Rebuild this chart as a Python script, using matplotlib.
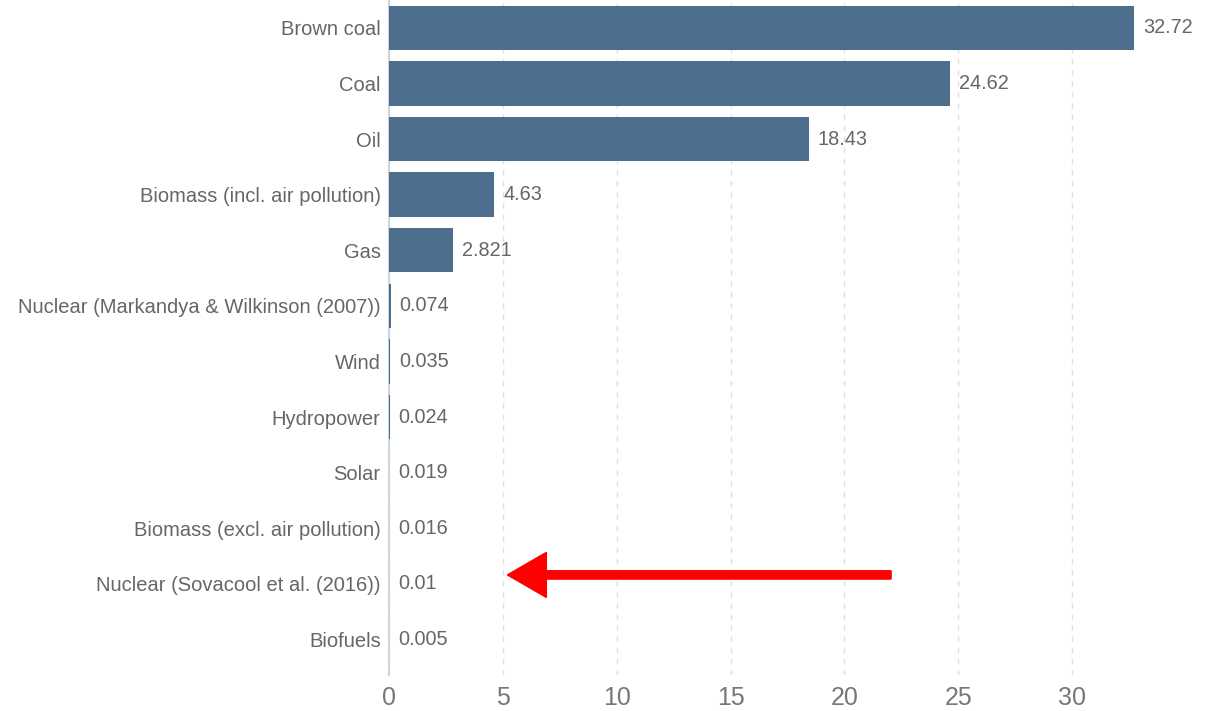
import matplotlib.pyplot as plt
from matplotlib.patches import FancyArrow

plt.rcParams['font.family'] = ['Liberation Sans', 'DejaVu Sans']

sources = ["Brown coal", "Coal", "Oil", "Biomass (incl. air pollution)", "Gas",
           "Nuclear (Markandya & Wilkinson (2007))", "Wind", "Hydropower", "Solar",
           "Biomass (excl. air pollution)", "Nuclear (Sovacool et al. (2016))", "Biofuels"]
rates = [32.72, 24.62, 18.43, 4.63, 2.821, 0.074, 0.035, 0.024, 0.019, 0.016, 0.01, 0.005]
rate_labels = ["32.72", "24.62", "18.43", "4.63", "2.821", "0.074", "0.035", "0.024",
               "0.019", "0.016", "0.01", "0.005"]
xticks = [0, 5, 10, 15, 20, 25, 30]

W, H = 1222, 711
fig = plt.figure(figsize=(W/100, H/100), dpi=100)
ax = fig.add_axes([389/W, 36/H, (W-389)/W, 675/H])

ypos = list(range(len(sources)))
ax.barh(ypos, rates, height=0.8, color='#3e6283', alpha=0.92, zorder=3)
for y, v, lab in zip(ypos, rates, rate_labels):
    ax.annotate(lab, (v, y), xytext=(6.5, 0), textcoords='offset points',
                va='center', ha='left', fontsize=14.3, color='#666666')

ax.set_xlim(0, (W-389)/22.77)
ax.set_ylim(11.64, -0.5)
ax.set_yticks(ypos)
ax.set_yticklabels(sources, fontsize=14.5, color='#666666')
ax.set_xticks(xticks)
ax.set_xticklabels([str(t) for t in xticks], fontsize=18, color='#777777')
ax.tick_params(axis='both', length=0)
ax.tick_params(axis='y', pad=6)
ax.tick_params(axis='x', pad=8)
ax.grid(axis='x', color='#e0e0e0', linestyle=(0, (4, 4)), linewidth=1, zorder=0)
for s in ['top', 'right', 'bottom']:
    ax.spines[s].set_visible(False)
ax.spines['left'].set_color('#ccd6e0')
ax.spines['left'].set_linewidth(1.5)

# red arrow pointing at the Sovacool nuclear row
ax.add_patch(FancyArrow(22.05, 9.84, -16.85, 0, width=0.15, head_width=0.81,
                        head_length=1.71, length_includes_head=True,
                        color='red', zorder=5))

plt.savefig('out.png', dpi=100)
